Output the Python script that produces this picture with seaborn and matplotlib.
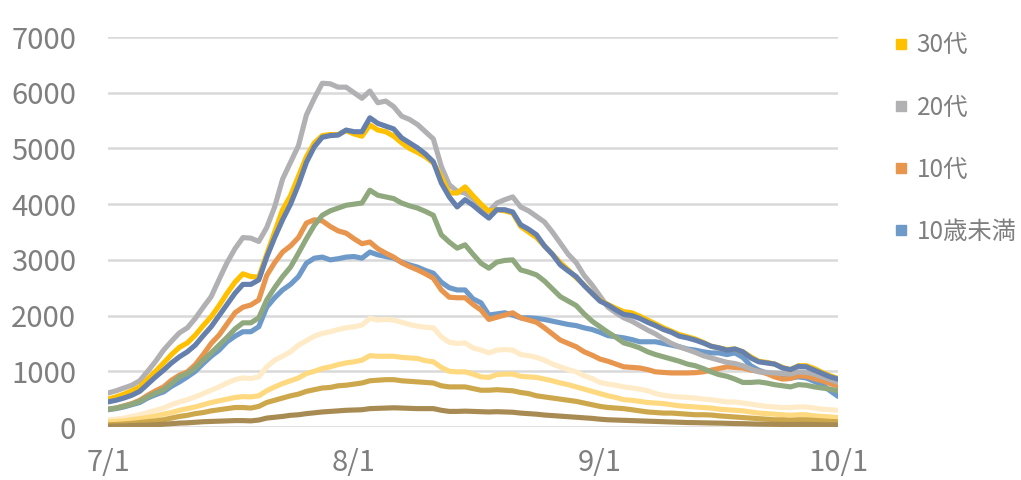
import pandas as pd
import seaborn as sns
import matplotlib.pyplot as plt
from matplotlib.lines import Line2D

# daily counts by age group, 7/1 - 10/1
dates = pd.date_range("2022-07-01", "2022-10-01", freq="D")

under10 = [310, 330, 360, 400, 440, 520, 580, 630, 730, 810, 900, 1000, 1140, 1270, 1380, 1530, 1630, 1710, 1710, 1800,
           2150, 2320, 2460, 2560, 2700, 2940, 3030, 3050, 3000, 3020, 3050, 3060, 3030, 3140, 3090, 3060, 3030, 2960, 2910, 2870,
           2810, 2760, 2600, 2500, 2460, 2460, 2300, 2230, 2010, 2030, 2050, 2010, 1960, 1960, 1950, 1930, 1900, 1870, 1840, 1820,
           1780, 1750, 1700, 1640, 1620, 1600, 1570, 1530, 1530, 1530, 1500, 1470, 1440, 1400, 1380, 1350, 1330, 1330, 1300, 1330,
           1250, 1100, 1020, 970, 920, 890, 880, 900, 880, 820, 760, 650, 550]
teens = [320, 340, 380, 420, 480, 570, 650, 720, 840, 930, 990, 1120, 1300, 1500, 1650, 1850, 2050, 2150, 2190, 2280,
         2720, 2950, 3140, 3250, 3400, 3660, 3720, 3700, 3600, 3520, 3480, 3380, 3290, 3320, 3200, 3120, 3050, 2950, 2880, 2820,
         2750, 2670, 2460, 2330, 2320, 2320, 2200, 2100, 1930, 1970, 2010, 2050, 1960, 1920, 1880, 1780, 1670, 1560, 1500, 1440,
         1350, 1290, 1220, 1180, 1130, 1080, 1070, 1060, 1030, 990, 980, 970, 970, 970, 975, 990, 1020, 1050, 1080, 1070,
         1060, 1020, 1000, 960, 900, 860, 870, 920, 910, 870, 830, 780, 740]
twenties = [610, 650, 700, 750, 830, 1000, 1180, 1380, 1540, 1690, 1780, 1950, 2150, 2340, 2650, 2950, 3200, 3400, 3390, 3330,
            3580, 3950, 4450, 4750, 5050, 5600, 5900, 6170, 6160, 6100, 6100, 6000, 5900, 6030, 5820, 5850, 5750, 5580, 5520, 5430,
            5300, 5170, 4680, 4350, 4230, 4200, 4100, 3950, 3870, 4020, 4080, 4130, 3950, 3880, 3780, 3680, 3500, 3300, 3100, 2950,
            2720, 2550, 2350, 2150, 2050, 1960, 1900, 1820, 1740, 1670, 1580, 1500, 1440, 1390, 1340, 1280, 1240, 1200, 1160, 1140,
            1100, 1040, 990, 980, 970, 960, 950, 990, 980, 950, 900, 850, 800]
thirties = [500, 540, 590, 650, 720, 860, 1000, 1150, 1300, 1430, 1510, 1650, 1820, 1980, 2180, 2400, 2600, 2750, 2700, 2690,
            3100, 3500, 3900, 4150, 4500, 4850, 5100, 5230, 5250, 5250, 5320, 5260, 5220, 5420, 5330, 5300, 5220, 5100, 5000, 4930,
            4850, 4740, 4490, 4200, 4200, 4310, 4150, 4000, 3870, 3900, 3880, 3840, 3600, 3500, 3400, 3250, 3100, 2950, 2820, 2680,
            2550, 2400, 2270, 2200, 2130, 2070, 2050, 1990, 1920, 1850, 1780, 1720, 1660, 1620, 1580, 1520, 1450, 1420, 1390, 1400,
            1350, 1260, 1180, 1160, 1130, 1070, 1030, 1100, 1100, 1050, 980, 920, 870]
forties = [450, 480, 520, 570, 640, 770, 900, 1020, 1150, 1260, 1350, 1470, 1640, 1800, 2000, 2200, 2400, 2560, 2560, 2640,
           3050, 3400, 3720, 4000, 4350, 4750, 5030, 5200, 5230, 5240, 5330, 5300, 5300, 5550, 5450, 5400, 5350, 5190, 5100, 5010,
           4900, 4760, 4380, 4130, 3950, 4080, 3980, 3860, 3750, 3900, 3900, 3860, 3630, 3550, 3450, 3250, 3100, 2910, 2800, 2700,
           2540, 2400, 2260, 2190, 2100, 2020, 2000, 1950, 1880, 1820, 1750, 1700, 1630, 1600, 1560, 1510, 1450, 1420, 1380, 1400,
           1350, 1240, 1170, 1150, 1130, 1060, 1030, 1090, 1080, 1020, 960, 900, 860]
fifties = [320, 340, 370, 410, 460, 540, 610, 670, 780, 900, 960, 1060, 1200, 1330, 1470, 1610, 1760, 1870, 1870, 1960,
           2280, 2500, 2700, 2870, 3120, 3380, 3620, 3800, 3880, 3930, 3980, 4000, 4020, 4250, 4160, 4130, 4100, 4020, 3970, 3930,
           3870, 3800, 3450, 3320, 3210, 3270, 3100, 2940, 2850, 2960, 2990, 3000, 2820, 2780, 2730, 2620, 2480, 2340, 2260, 2180,
           2030, 1900, 1800, 1700, 1610, 1510, 1470, 1420, 1350, 1300, 1260, 1220, 1180, 1130, 1100, 1050, 990, 940, 910, 860,
           800, 800, 810, 790, 760, 740, 720, 760, 750, 720, 700, 680, 650]
sixties = [130, 140, 160, 190, 220, 260, 300, 340, 400, 450, 490, 540, 600, 660, 720, 790, 850, 880, 870, 900,
           1080, 1200, 1270, 1350, 1470, 1550, 1630, 1680, 1710, 1750, 1780, 1800, 1830, 1950, 1920, 1930, 1920, 1880, 1840, 1810,
           1790, 1780, 1620, 1520, 1500, 1510, 1420, 1380, 1330, 1380, 1390, 1380, 1300, 1280, 1250, 1200, 1130, 1080, 1030, 990,
           920, 870, 800, 770, 750, 720, 700, 680, 650, 600, 570, 550, 540, 530, 520, 500, 490, 470, 450, 450,
           430, 410, 390, 370, 360, 350, 350, 360, 360, 340, 320, 310, 300]
seventies = [90, 100, 110, 130, 150, 170, 200, 230, 260, 300, 330, 360, 400, 440, 470, 500, 530, 545, 540, 560,
             650, 720, 780, 830, 880, 960, 1000, 1050, 1080, 1120, 1150, 1170, 1200, 1280, 1270, 1270, 1270, 1250, 1240, 1230,
             1190, 1170, 1070, 1000, 990, 990, 950, 900, 890, 940, 950, 950, 910, 900, 890, 860, 830, 790, 760, 720,
             680, 640, 600, 560, 530, 490, 480, 460, 440, 430, 420, 400, 380, 370, 360, 350, 340, 320, 310, 300,
             290, 270, 250, 240, 230, 220, 210, 220, 220, 200, 190, 180, 170]
eighties = [40, 45, 55, 65, 80, 95, 110, 130, 160, 190, 210, 240, 260, 290, 310, 330, 350, 350, 340, 370,
            440, 480, 520, 560, 590, 640, 670, 700, 710, 740, 750, 770, 790, 830, 840, 850, 850, 830, 820, 810,
            800, 790, 740, 720, 720, 720, 690, 660, 660, 670, 660, 650, 620, 600, 560, 540, 520, 500, 480, 460,
            430, 400, 370, 350, 340, 330, 310, 290, 270, 260, 250, 250, 240, 230, 220, 220, 215, 200, 190, 180,
            170, 160, 150, 140, 130, 130, 120, 130, 130, 120, 110, 100, 95]
nineties = [15, 18, 20, 25, 30, 35, 40, 50, 60, 70, 75, 85, 95, 100, 105, 110, 115, 115, 110, 125,
            160, 175, 190, 210, 220, 240, 255, 270, 280, 290, 300, 305, 310, 330, 335, 340, 345, 340, 335, 330,
            330, 330, 300, 280, 280, 285, 280, 275, 270, 275, 270, 265, 250, 240, 230, 215, 205, 195, 185, 175,
            165, 155, 140, 130, 125, 120, 115, 110, 105, 100, 95, 90, 85, 80, 78, 75, 72, 70, 66, 62,
            60, 56, 52, 50, 48, 46, 45, 47, 46, 43, 40, 38, 36]

groups = ["10歳未満", "10代", "20代", "30代", "40代", "50代", "60代", "70代", "80代", "90代以上"]
series = [under10, teens, twenties, thirties, forties, fifties, sixties, seventies, eighties, nineties]
colors = ["#6E9ACA", "#E8954E", "#B1B1B4", "#FFC000", "#6680AE",
          "#8FA87E", "#FFEBC8", "#FFD980", "#CDA74B", "#A88B52"]
legend_groups = ["30代", "20代", "10代", "10歳未満"]

x_ticks = pd.to_datetime(["2022-07-01", "2022-08-01", "2022-09-01", "2022-10-01"])
x_labels = ["7/1", "8/1", "9/1", "10/1"]

df = pd.concat([pd.DataFrame({"date": dates, "count": vals, "group": g})
                for g, vals in zip(groups, series)], ignore_index=True)

sns.set_style("white")
plt.rcParams["font.family"] = ["Noto Sans CJK JP", "DejaVu Sans"]

fig = plt.figure(figsize=(10.21, 4.80), dpi=100)
ax = fig.add_axes([0.1058, 0.1104, 0.715, 0.8125])

palette = dict(zip(groups, colors))
sns.lineplot(data=df, x="date", y="count", hue="group", hue_order=groups,
             palette=palette, linewidth=3.7, legend=False, ax=ax)

ax.set_xlim(dates[0], dates[-1])
ax.set_ylim(0, 7000)
ax.set_yticks(range(0, 7001, 1000))
ax.set_xticks(x_ticks)
ax.set_xticklabels(x_labels)
ax.set_xlabel("")
ax.set_ylabel("")
ax.grid(axis="y", color="#D9D9D9", linewidth=1.8)
ax.set_axisbelow(True)
for s in ax.spines.values():
    s.set_visible(False)
ax.tick_params(axis="both", length=0, labelsize=21, labelcolor="#7F7F7F")
ax.tick_params(axis="y", pad=23)
ax.tick_params(axis="x", pad=15)

handles = [Line2D([], [], marker="s", linestyle="none", markersize=7,
                  markerfacecolor=palette[g], markeredgecolor=palette[g]) for g in legend_groups]
fig.legend(handles, legend_groups, loc="upper left", bbox_to_anchor=(0.861, 0.958),
           frameon=False, fontsize=17.5, labelcolor="#7F7F7F", labelspacing=1.49,
           handlelength=0.8, handletextpad=0.25, borderpad=0)

fig.savefig("out.png", dpi=100)
plt.close(fig)
